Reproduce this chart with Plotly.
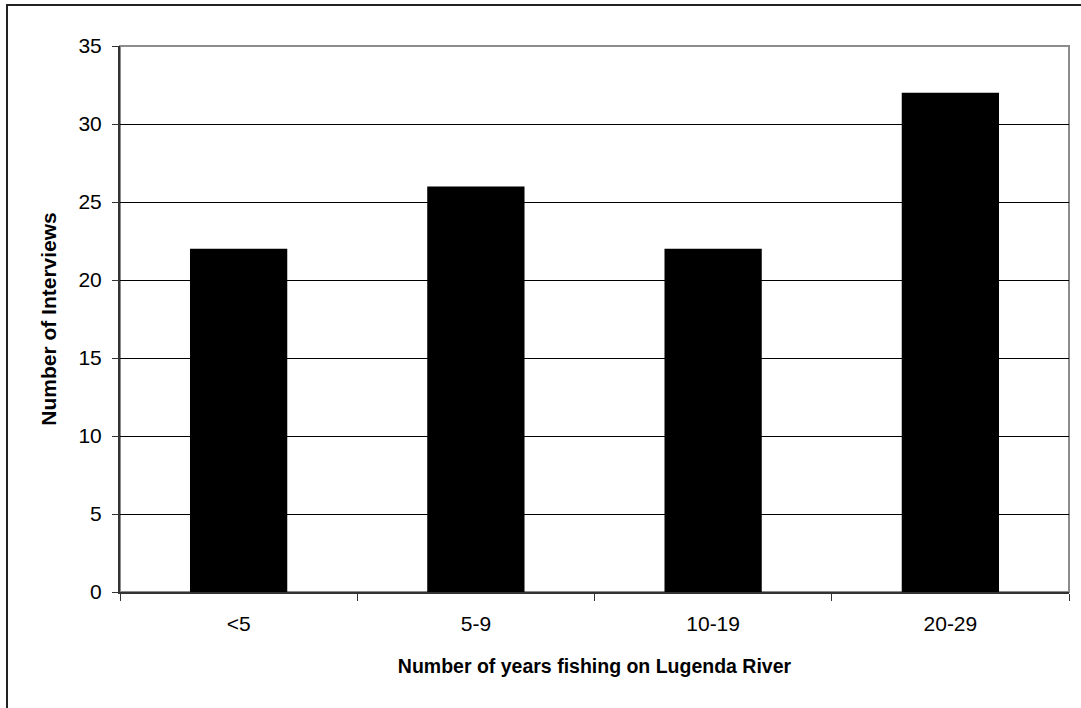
import plotly.graph_objects as go

categories = ["<5", "5-9", "10-19", "20-29"]
interviews = [22, 26, 22, 32]
y_ticks = [0, 5, 10, 15, 20, 25, 30, 35]

W, H = 1081, 708
L, R, T, B = 120, 12, 46, 116
pw, ph = W - L - R, H - T - B

fig = go.Figure(go.Bar(x=categories, y=interviews, marker=dict(color="black", line=dict(width=0))))

font = "Liberation Sans, Arial, sans-serif"

fig.update_layout(
    width=W, height=H,
    margin=dict(l=L, r=R, t=T, b=B, autoexpand=False),
    paper_bgcolor="white", plot_bgcolor="white",
    bargap=0.59,
    showlegend=False,
    font=dict(family=font, size=21, color="black"),
)
fig.update_xaxes(
    showline=True, linecolor="#333333", linewidth=2,
    ticks="outside", ticklen=7, tickcolor="#333333", tickwidth=1,
    tickson="boundaries", showgrid=False,
    tickfont=dict(size=21), ticklabelstandoff=12,
    title=dict(text="<b>Number of years fishing on Lugenda River</b>", font=dict(size=19.5), standoff=25),
)
fig.update_yaxes(
    range=[0, 35], tickvals=y_ticks,
    showline=True, linecolor="#333333", linewidth=2,
    ticks="outside", ticklen=6, tickcolor="#333333", tickwidth=1,
    showgrid=True, gridcolor="black", gridwidth=1, zeroline=False,
    tickfont=dict(size=21), ticklabelstandoff=6,
    title=dict(text="<b>Number of Interviews</b>", font=dict(size=21), standoff=16),
)
# plot area border (top/right gray)
fig.add_shape(type="rect", xref="paper", yref="paper", x0=0, x1=1, y0=0, y1=1,
              line=dict(color="#8c8c8c", width=2), layer="below")
# outer figure border
fig.add_shape(type="rect", xref="paper", yref="paper",
              x0=(7 - L) / pw, x1=(W + 5 - L) / pw,
              y0=(H - B - (H + 5)) / ph, y1=(H - B - 5) / ph,
              line=dict(color="#222222", width=2), layer="below")

fig.write_html("out.html", config={"displayModeBar": False},
               post_script="document.body.style.margin='0';")
